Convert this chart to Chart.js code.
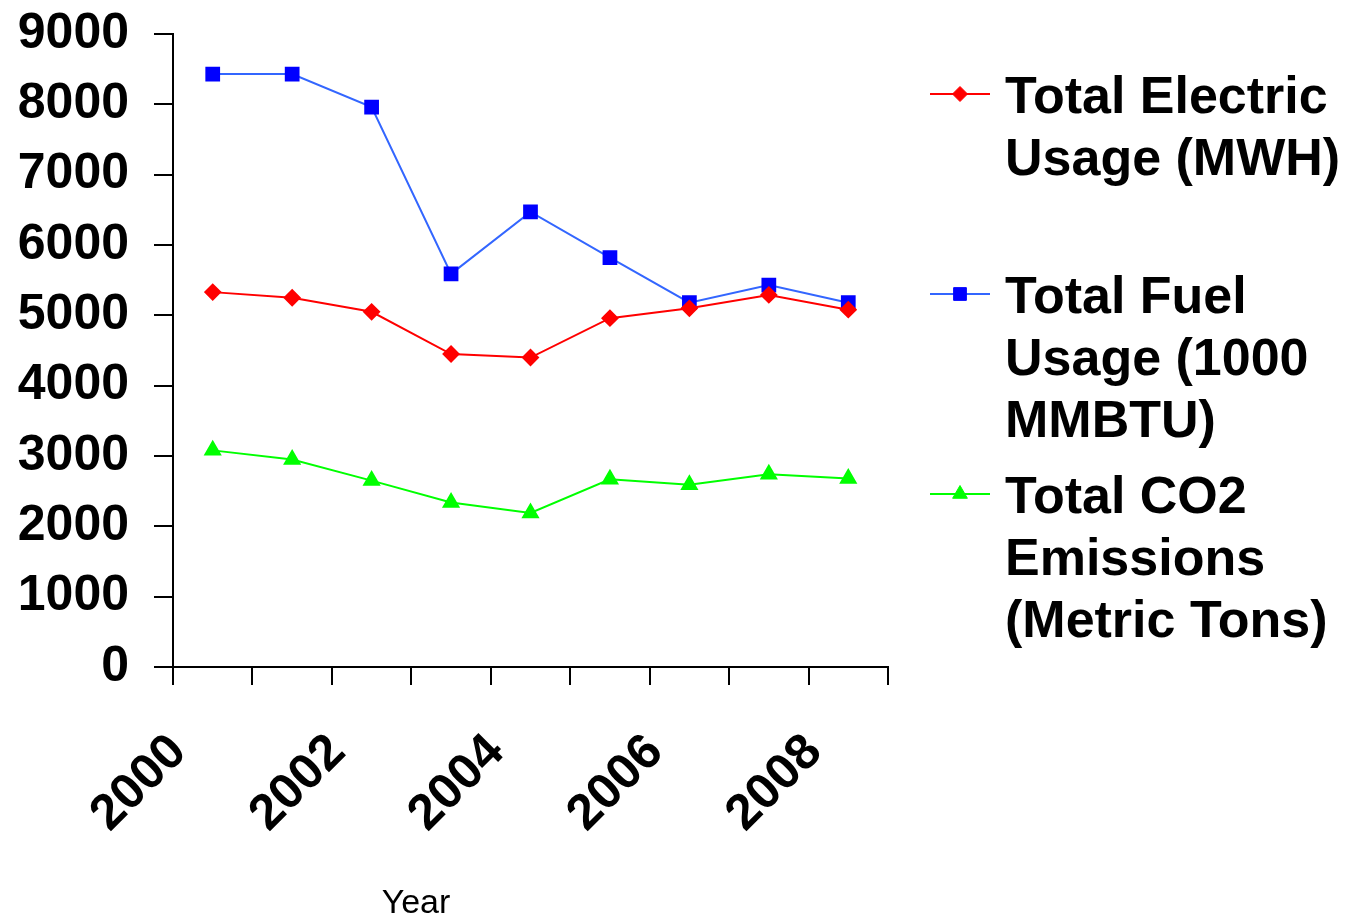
<!DOCTYPE html>
<html>
<head>
<meta charset="utf-8">
<script src="https://cdn.jsdelivr.net/npm/chart.js@4.4.1/dist/chart.umd.min.js"></script>
<style>
  html, body { margin: 0; padding: 0; background: #ffffff; }
  #wrap { width: 1345px; height: 918px; }
</style>
</head>
<body>
<div id="wrap"><canvas id="c" width="1345" height="918"></canvas></div>
<script>
// ---- data ----
const categories = ['2000', '2001', '2002', '2003', '2004', '2005', '2006', '2007', '2008'];
const electricUsage = [5330, 5250, 5050, 4450, 4400, 4960, 5100, 5290, 5080];
const fuelUsage = [8430, 8430, 7960, 5590, 6470, 5820, 5180, 5430, 5180];
const co2Emissions = [3080, 2950, 2650, 2340, 2190, 2670, 2590, 2740, 2680];
const yTicks = [0, 1000, 2000, 3000, 4000, 5000, 6000, 7000, 8000, 9000];
const seriesNames = ['Total Electric Usage (MWH)', 'Total Fuel Usage (1000 MMBTU)', 'Total CO2 Emissions (Metric Tons)'];
const legendLines = [
  ['Total Electric', 'Usage (MWH)'],
  ['Total Fuel', 'Usage (1000', 'MMBTU)'],
  ['Total CO2', 'Emissions', '(Metric Tons)']
];
const xTitle = 'Year';

Chart.defaults.font.family = '"Liberation Sans", Arial, Helvetica, sans-serif';
Chart.defaults.color = '#000000';

const sideLegend = {
  id: 'sideLegend',
  afterDraw(chart, args, o) {
    const ctx = chart.ctx;
    ctx.save();
    chart.data.datasets.forEach((ds, i) => {
      const y = o.top + i * o.itemGap;
      ctx.strokeStyle = ds.borderColor;
      ctx.lineWidth = 2;
      ctx.beginPath();
      ctx.moveTo(o.lineX0, y);
      ctx.lineTo(o.lineX1, y);
      ctx.stroke();
      ctx.fillStyle = ds.pointBackgroundColor;
      ctx.strokeStyle = ds.pointBorderColor;
      ctx.lineWidth = 1;
      Chart.helpers.drawPoint(ctx, {
        pointStyle: ds.pointStyle,
        radius: ds.pointRadius,
        borderWidth: 1,
        rotation: 0
      }, (o.lineX0 + o.lineX1) / 2, y);
      ctx.fillStyle = '#000000';
      ctx.font = o.font;
      ctx.textAlign = 'left';
      ctx.textBaseline = 'alphabetic';
      legendLines[i].forEach((line, j) => {
        ctx.fillText(line, o.textX, y + o.baselineOffset + j * o.lineHeight);
      });
    });
    ctx.font = o.titleFont;
    ctx.textAlign = 'center';
    ctx.textBaseline = 'alphabetic';
    ctx.fillText(xTitle, o.titleX, o.titleY);
    ctx.restore();
  }
};

new Chart(document.getElementById('c'), {
  type: 'line',
  data: {
    labels: categories,
    datasets: [
      {
        label: seriesNames[0],
        data: electricUsage,
        borderColor: '#ff0000',
        backgroundColor: '#ff0000',
        pointBackgroundColor: '#ff0000',
        pointBorderColor: '#ff0000',
        pointStyle: 'rectRot',
        pointRadius: 7.5,
        borderWidth: 2,
        tension: 0
      },
      {
        label: seriesNames[1],
        data: fuelUsage,
        borderColor: '#3366ff',
        backgroundColor: '#0000ff',
        pointBackgroundColor: '#0000ff',
        pointBorderColor: '#0000ff',
        pointStyle: 'rect',
        pointRadius: 9,
        borderWidth: 2,
        tension: 0
      },
      {
        label: seriesNames[2],
        data: co2Emissions,
        borderColor: '#00ff00',
        backgroundColor: '#00ff00',
        pointBackgroundColor: '#00ff00',
        pointBorderColor: '#00ff00',
        pointStyle: 'triangle',
        pointRadius: 8.5,
        borderWidth: 2,
        tension: 0
      }
    ]
  },
  options: {
    responsive: false,
    devicePixelRatio: 1,
    animation: false,
    layout: { padding: { left: 0, right: 457, top: 34, bottom: 0 } },
    plugins: {
      legend: { display: false },
      tooltip: { enabled: false },
      sideLegend: {
        top: 94,
        itemGap: 200,
        lineX0: 930,
        lineX1: 990,
        textX: 1005,
        baselineOffset: 19,
        lineHeight: 62,
        font: 'bold 52px "Liberation Sans", Arial, sans-serif',
        titleFont: '34px "Liberation Sans", Arial, sans-serif',
        titleX: 416,
        titleY: 913
      }
    },
    scales: {
      x: {
        type: 'category',
        offset: true,
        grid: {
          offset: true,
          drawOnChartArea: false,
          drawTicks: true,
          tickLength: 18,
          color: '#000000',
          lineWidth: 2
        },
        border: { display: true, color: '#000000', width: 2 },
        ticks: {
          autoSkip: false,
          maxRotation: 45,
          minRotation: 45,
          padding: 38,
          labelOffset: -34,
          color: '#000000',
          font: { size: 50, weight: 'bold' },
          callback: function (value, index) {
            return index % 2 === 0 ? this.getLabelForValue(value) : '';
          }
        },
        afterFit: (s) => { s.height = 251; s.paddingTop = 0; }
      },
      y: {
        min: 0,
        max: 9000,
        grid: {
          drawOnChartArea: false,
          drawTicks: true,
          tickLength: 19,
          color: '#000000',
          lineWidth: 2
        },
        border: { display: true, color: '#000000', width: 2 },
        afterBuildTicks: (s) => { s.ticks = yTicks.map(v => ({ value: v })); },
        ticks: {
          padding: 25,
          color: '#000000',
          font: { size: 50, weight: 'bold' },
          callback: (v) => String(v)
        },
        afterFit: (s) => { s.width = 173; s.paddingTop = 0; s.paddingBottom = 0; }
      }
    }
  },
  plugins: [sideLegend]
});
</script>
</body>
</html>
